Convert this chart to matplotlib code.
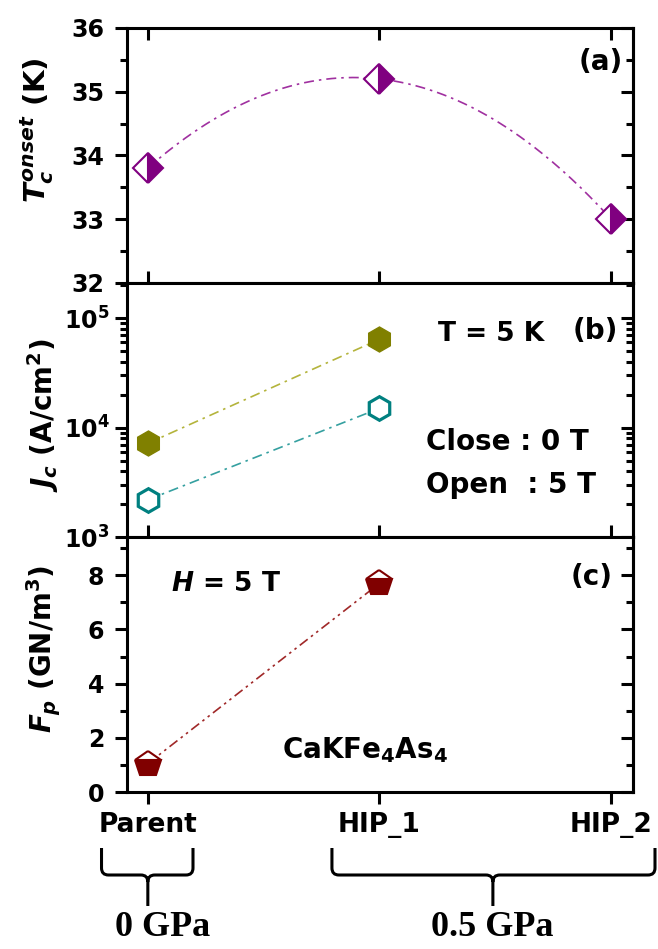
import numpy as np
import matplotlib
matplotlib.use("Agg")
import matplotlib.pyplot as plt
import matplotlib.transforms as mtransforms
from matplotlib.path import Path
from matplotlib.patches import PathPatch
from matplotlib.ticker import MultipleLocator, NullFormatter

# ==========================================
# DATA
# ==========================================
muestras = ["Parent", "HIP_1", "HIP_2"]
tc_onset = [33.8, 35.2, 33.0]          # K
jc_0T = [7.2e3, 6.4e4]                 # A/cm^2, closed symbols
jc_5T = [2.2e3, 1.5e4]                 # A/cm^2, open symbols
fp_5T = [1.05, 7.7]                    # GN/m^3

x_pos = np.arange(len(muestras))

# ==========================================
# STYLE
# ==========================================
plt.rcParams.update({
    "font.family": ["DejaVu Sans"],
    "font.weight": "bold",
    "axes.labelweight": "bold",
    "mathtext.fontset": "custom",
    "mathtext.rm": "DejaVu Sans:bold",
    "mathtext.it": "DejaVu Sans:italic:bold",
    "mathtext.bf": "DejaVu Sans:bold",
    "axes.linewidth": 2.2,
})

PURPLE = "#800080"
OLIVE = "#808000"
TEAL = "#008080"
DARKRED = "#800000"
DASHDOT = (0, (6, 3, 1.5, 3))
DASHDOTDOT = (0, (6, 2.5, 1.5, 2.5, 1.5, 2.5))
TICK_FS = 17
TEXT_FS = 20
LABEL_FS = 20

fig = plt.figure(figsize=(6.58, 9.49), dpi=100)
gs = fig.add_gridspec(3, 1, left=0.193, right=0.962, top=0.9705,
                      bottom=0.1654, hspace=0)
ax_a = fig.add_subplot(gs[0])
ax_b = fig.add_subplot(gs[1], sharex=ax_a)
ax_c = fig.add_subplot(gs[2], sharex=ax_a)


def estilo_y(ax, log=False, major=None, minor=None):
    ax.tick_params(axis="y", which="major", direction="out", length=8.5,
                   width=2.2, labelsize=TICK_FS, pad=8 if not log else 4)
    ax.tick_params(axis="y", which="minor", direction="out", length=5,
                   width=2.2)
    sec = ax.secondary_yaxis("right")
    sec.spines["right"].set_linewidth(2.2)
    if major is not None:
        ax.yaxis.set_major_locator(MultipleLocator(major))
        ax.yaxis.set_minor_locator(MultipleLocator(minor))
        sec.yaxis.set_major_locator(MultipleLocator(major))
        sec.yaxis.set_minor_locator(MultipleLocator(minor))
    else:
        ax.yaxis.set_minor_formatter(NullFormatter())
    sec.tick_params(which="major", direction="in", length=8.5, width=2.2,
                    labelright=False)
    sec.tick_params(which="minor", direction="in", length=5, width=2.2,
                    labelright=False)
    sec.yaxis.set_minor_formatter(NullFormatter())


# ---------- (a) Tc onset ----------
coef = np.polyfit(x_pos, tc_onset, 2)
xs = np.linspace(x_pos[0], x_pos[-1], 200)
ax_a.plot(xs, np.polyval(coef, xs), color="#a030a0", lw=1.2, ls=DASHDOT,
          zorder=2)
ax_a.plot(x_pos, tc_onset, ls="none", marker="D", ms=15, fillstyle="right",
          markerfacecolor=PURPLE, markerfacecoloralt="white",
          markeredgecolor=PURPLE, mew=1.5, zorder=3)
ax_a.set_ylim(32, 36)
estilo_y(ax_a, major=1, minor=0.5)
ax_a.set_ylabel(r"$T_c^{onset}$ (K)", fontsize=LABEL_FS + 1)
ax_a.yaxis.set_label_coords(-0.14, 0.6)
ax_a.text(0.937, 0.866, "(a)", transform=ax_a.transAxes, fontsize=TEXT_FS,
          ha="center", va="center")

# ---------- (b) Jc ----------
ax_b.plot(x_pos[:2], jc_0T, color="#b4b43c", lw=1.2, ls=DASHDOT, zorder=2)
ax_b.plot(x_pos[:2], jc_5T, color="#35a0a0", lw=1.2, ls=DASHDOT, zorder=2)
ax_b.plot(x_pos[:2], jc_0T, ls="none", marker="h", ms=18, color=OLIVE,
          mec=OLIVE, zorder=3)
ax_b.plot(x_pos[:2], jc_5T, ls="none", marker="h", ms=17, mfc="white",
          mec=TEAL, mew=2.3, zorder=3)
ax_b.set_yscale("log")
ax_b.set_ylim(1e3, 2.1e5)
estilo_y(ax_b, log=True)
ax_b.set_ylabel(r"$J_c$ (A/cm$^2$)", fontsize=LABEL_FS)
ax_b.yaxis.set_label_coords(-0.13, 0.48)
ax_b.text(0.925, 0.81, "(b)", transform=ax_b.transAxes, fontsize=TEXT_FS,
          ha="center", va="center")
ax_b.text(0.719, 0.798, "T = 5 K", transform=ax_b.transAxes,
          fontsize=TEXT_FS - 1, ha="center", va="center")
ax_b.text(0.591, 0.375, "Close : 0 T", transform=ax_b.transAxes,
          fontsize=TEXT_FS, ha="left", va="center")
ax_b.text(0.591, 0.206, "Open  : 5 T", transform=ax_b.transAxes,
          fontsize=TEXT_FS, ha="left", va="center")

# ---------- (c) Fp ----------
ax_c.plot(x_pos[:2], fp_5T, color="#a02828", lw=1.2, ls=DASHDOTDOT, zorder=2)
ax_c.plot(x_pos[:2], fp_5T, ls="none", marker="p", ms=19, fillstyle="bottom",
          markerfacecolor=DARKRED, markerfacecoloralt="white",
          markeredgecolor=DARKRED, mew=1.5, zorder=3)
ax_c.set_ylim(0, 9.4)
estilo_y(ax_c, major=2, minor=1)
ax_c.set_ylabel(r"$F_p$ (GN/m$^3$)", fontsize=LABEL_FS)
ax_c.yaxis.set_label_coords(-0.127, 0.56)
ax_c.text(0.919, 0.844, "(c)", transform=ax_c.transAxes, fontsize=TEXT_FS,
          ha="center", va="center")
ax_c.text(0.196, 0.817, r"$H$ = 5 T", transform=ax_c.transAxes,
          fontsize=TEXT_FS - 1, ha="center", va="center")
ax_c.text(0.47, 0.132, r"CaKFe$_4$As$_4$", transform=ax_c.transAxes,
          fontsize=TEXT_FS, ha="center", va="baseline")

# ---------- x axis ----------
ax_c.set_xlim(-0.09, 2.095)
ax_c.set_xticks(x_pos)
ax_c.set_xticklabels(muestras)
ax_a.tick_params(axis="x", direction="in", top=True, length=8.5, width=2.2,
                 labelbottom=False)
ax_b.tick_params(axis="x", direction="in", length=8.5, width=2.2,
                 labelbottom=False)
ax_c.tick_params(axis="x", direction="out", length=8.5, width=2.2,
                 labelsize=19, pad=6)

# ---------- pressure braces ----------
trans = mtransforms.blended_transform_factory(ax_c.transData, fig.transFigure)
H = 949.0
y_top, y_h, y_tip = 1 - 848 / H, 1 - 875 / H, 1 - 906 / H
ry = 7 / H
rx = 0.03


def llave(xl, xr, xm):
    verts = [(xl, y_top), (xl, y_h + ry), (xl, y_h), (xl + rx, y_h),
             (xm - rx, y_h), (xm, y_h), (xm, y_h - ry), (xm, y_tip),
             (xr, y_top), (xr, y_h + ry), (xr, y_h), (xr - rx, y_h),
             (xm + rx, y_h), (xm, y_h), (xm, y_h - ry)]
    codes = [Path.MOVETO, Path.LINETO, Path.CURVE3, Path.CURVE3,
             Path.LINETO, Path.CURVE3, Path.CURVE3, Path.LINETO,
             Path.MOVETO, Path.LINETO, Path.CURVE3, Path.CURVE3,
             Path.LINETO, Path.CURVE3, Path.CURVE3]
    fig.add_artist(PathPatch(Path(verts, codes), transform=trans, fill=False,
                             lw=2.2, color="black", capstyle="butt"))


llave(-0.2, 0.195, 0.0)
llave(0.795, 2.19, 1.49)
fig.text(0.065, 1 - 928 / H, "0 GPa", transform=trans, ha="center",
         va="center", fontsize=26, family="Liberation Serif", weight="bold")
fig.text(1.486, 1 - 928 / H, "0.5 GPa", transform=trans, ha="center",
         va="center", fontsize=26, family="Liberation Serif", weight="bold")

fig.savefig("out.png", dpi=100)
